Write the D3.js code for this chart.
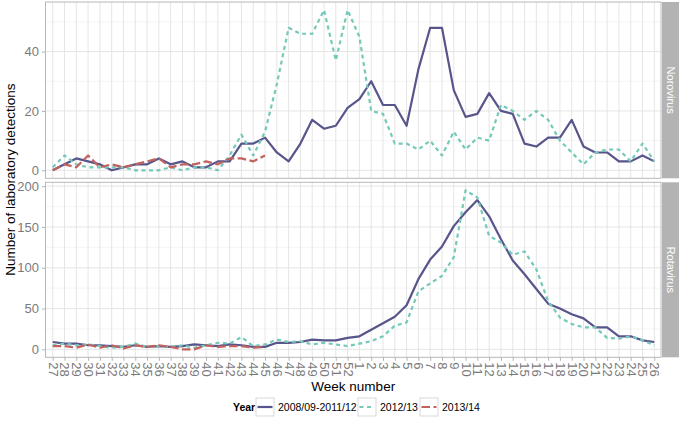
<!DOCTYPE html>
<html>
<head>
<meta charset="utf-8">
<script src="https://cdn.jsdelivr.net/npm/d3@7"></script>
<style>
  body { margin: 0; background: #fff; }
  svg { font-family: "Liberation Sans", Arial, sans-serif; }
</style>
</head>
<body>
<div id="chart"></div>
<script>
// week labels, July to June
const weeks = ['27','28','29','30','31','32','33','34','35','36','37','38','39','40','41','42','43','44','45','46','47','48','49','50','51','52',
               '1','2','3','4','5','6','7','8','9','10','11','12','13','14','15','16','17','18','19','20','21','22','23','24','25','26'];

const seriesNames = ['2008/09-2011/12', '2012/13', '2013/14'];

// Norovirus
const noroAvg = [0,2,4,3,2,0,1,2,2,4,2,3,1,1,3,3,9,9,11,6,3,9,17,14,15,21,
                 24,30,22,22,15,34,48,48,27,18,19,26,20,19,9,8,11,11,17,8,6,6,3,3,5,3];
const noro1213 = [1,5,2,1,1,1,1,0,0,0,1,0,1,1,0,5,12,5,13,29,48,46,46,54,37,54,
                  45,20,19,9,9,7,10,5,13,7,11,10,22,20,17,20,17,10,6,2,6,7,7,3,9,3];
const noro1314 = [0,2,1,5,1,2,1,2,3,4,1,2,2,3,2,4,4,3,5];

// Rotavirus
const rotaAvg = [9,7,7,5,5,4,3,5,3,4,3,4,6,5,4,6,5,3,3,8,8,9,12,11,11,14,
                 16,24,32,40,54,86,110,126,151,168,183,163,135,109,92,74,56,50,43,38,27,27,16,16,11,9];
const rota1213 = [5,7,5,6,4,2,3,7,3,4,3,5,2,5,8,7,15,4,6,12,9,10,6,8,6,4,
                  7,10,16,29,33,71,81,90,113,195,186,139,131,116,120,98,59,39,31,27,27,14,13,16,11,5];
const rota1314 = [4,4,2,6,2,5,1,5,3,5,3,0,0,5,3,4,4,2,3];

const yTicksNoro = [0, 20, 40];
const yTicksRota = [0, 50, 100, 150, 200];

const colors = ['#57558b', '#74c9b9', '#c2625e'];
const dashes = [null, '4,3.5', '8.5,3.5'];

const width = 679, height = 434;
const left = 45.5, right = 661, stripW = 17;

const svg = d3.select('#chart').append('svg')
  .attr('width', width)
  .attr('height', height);

const x = d3.scalePoint()
  .domain(weeks)
  .range([52.7, 654.3]);

const panels = [
  { name: 'Norovirus', top: 2, bottom: 178.3, ticks: yTicksNoro, minor: [10, 30, 50],
    series: [noroAvg, noro1213, noro1314] },
  { name: 'Rotavirus', top: 182.3, bottom: 357.3, ticks: yTicksRota, minor: [25, 75, 125, 175],
    series: [rotaAvg, rota1213, rota1314] }
];

panels.forEach(p => {
  const all = p.series.flat();
  const lo = d3.min(all), hi = d3.max(all), pad = (hi - lo) * 0.05;
  const y = d3.scaleLinear().domain([lo - pad, hi + pad]).range([p.bottom, p.top]);

  const g = svg.append('g');

  g.append('rect')
    .attr('x', left).attr('y', p.top)
    .attr('width', right - left).attr('height', p.bottom - p.top)
    .attr('fill', '#fff');

  // minor grid
  g.selectAll('.minor').data(p.minor.filter(v => y(v) > p.top)).enter().append('line')
    .attr('x1', left).attr('x2', right)
    .attr('y1', d => y(d)).attr('y2', d => y(d))
    .attr('stroke', '#efefef').attr('stroke-width', 0.6);

  // major grid
  g.selectAll('.hmaj').data(p.ticks.filter(v => y(v) > p.top)).enter().append('line')
    .attr('x1', left).attr('x2', right)
    .attr('y1', d => y(d)).attr('y2', d => y(d))
    .attr('stroke', '#e2e2e2').attr('stroke-width', 0.9);

  g.selectAll('.vmaj').data(weeks).enter().append('line')
    .attr('x1', d => x(d)).attr('x2', d => x(d))
    .attr('y1', p.top).attr('y2', p.bottom)
    .attr('stroke', '#e2e2e2').attr('stroke-width', 0.9);

  // lines
  const line = d3.line()
    .x((d, i) => x(weeks[i]))
    .y(d => y(d));

  p.series.forEach((s, k) => {
    g.append('path')
      .datum(s)
      .attr('fill', 'none')
      .attr('stroke', colors[k])
      .attr('stroke-width', 2.2)
      .attr('stroke-linejoin', 'round')
      .attr('stroke-dasharray', dashes[k])
      .attr('d', line);
  });

  // border
  g.append('rect')
    .attr('x', left).attr('y', p.top)
    .attr('width', right - left).attr('height', p.bottom - p.top)
    .attr('fill', 'none').attr('stroke', '#b8b8b8').attr('stroke-width', 1);

  // y axis
  const yAxis = g.append('g')
    .attr('transform', 'translate(' + left + ',0)')
    .call(d3.axisLeft(y).tickValues(p.ticks.filter(v => y(v) > p.top)).tickSize(3.5).tickPadding(3));
  yAxis.select('.domain').remove();
  yAxis.selectAll('line').attr('stroke', '#b3b3b3');
  yAxis.selectAll('text')
    .attr('fill', '#7a7a7a')
    .style('font-size', '13px')
    .style('font-family', '"Liberation Sans", Arial, sans-serif');

  // strip
  g.append('rect')
    .attr('x', right + 1).attr('y', p.top)
    .attr('width', stripW + 1).attr('height', p.bottom - p.top)
    .attr('fill', '#b3b3b3');
  g.append('text')
    .attr('transform', 'translate(' + (right + 1 + stripW / 2 + 0.5) + ',' + ((p.top + p.bottom) / 2) + ') rotate(90)')
    .attr('text-anchor', 'middle')
    .attr('dy', '0.35em')
    .attr('fill', '#fff')
    .style('font-size', '11px')
    .text(p.name);
});

// x axis
const xAxis = svg.append('g')
  .attr('transform', 'translate(0,' + panels[1].bottom + ')')
  .call(d3.axisBottom(x).tickSize(3.5).tickPadding(0));
xAxis.select('.domain').remove();
xAxis.selectAll('line').attr('stroke', '#b3b3b3');
xAxis.selectAll('text')
  .attr('fill', '#7a7a7a')
  .style('font-size', '13px')
  .style('font-family', '"Liberation Sans", Arial, sans-serif')
  .attr('text-anchor', 'start')
  .attr('transform', 'translate(0,5) rotate(90)')
  .attr('x', 0).attr('y', 0)
  .attr('dy', '0.35em');

// axis titles
svg.append('text')
  .attr('x', (left + right) / 2).attr('y', 391)
  .attr('text-anchor', 'middle')
  .style('font-size', '13.5px')
  .text('Week number');

svg.append('text')
  .attr('transform', 'translate(15,' + ((panels[0].top + panels[1].bottom) / 2) + ') rotate(-90)')
  .attr('text-anchor', 'middle')
  .style('font-size', '13.5px')
  .text('Number of laboratory detections');

// legend
const legend = svg.append('g').attr('transform', 'translate(0,407)');
legend.append('text')
  .attr('x', 233).attr('dy', '0.35em')
  .style('font-size', '10.5px').style('font-weight', 'bold')
  .text('Year');

const keyX = [256, 358, 420];
seriesNames.forEach((n, k) => {
  const kg = legend.append('g').attr('transform', 'translate(' + keyX[k] + ',0)');
  kg.append('rect')
    .attr('x', 0).attr('y', -9).attr('width', 18).attr('height', 18)
    .attr('fill', '#fff').attr('stroke', '#cfcfcf').attr('stroke-width', 0.8);
  kg.append('line')
    .attr('x1', 1.5).attr('x2', 16.5).attr('y1', 0).attr('y2', 0)
    .attr('stroke', colors[k]).attr('stroke-width', 2.2)
    .attr('stroke-dasharray', dashes[k]);
  kg.append('text')
    .attr('x', 22).attr('dy', '0.35em')
    .style('font-size', '10.5px')
    .text(n);
});
</script>
</body>
</html>
